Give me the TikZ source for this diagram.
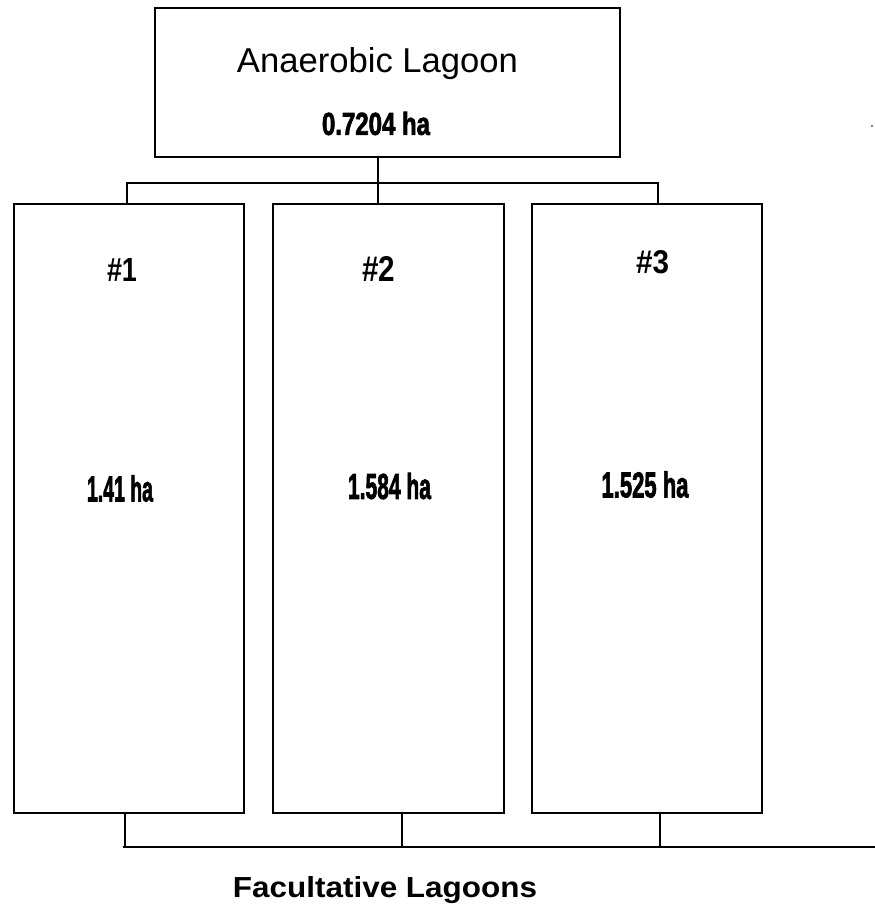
\documentclass[tikz,border=0pt]{standalone}
\usepackage{fontspec}
\setmainfont{Liberation Sans}
\newfontfamily\heavyfont[FakeBold=2.5]{Liberation Sans Bold}
\usepackage{graphicx}
\begin{document}
\begin{tikzpicture}[x=1pt,y=-1pt,
  lagoon/.style={draw=black, line width=1.6pt, rectangle, inner sep=0pt, outer sep=0pt},
  conn/.style={draw=black, line width=1.6pt},
  lbl/.style={inner sep=0pt, outer sep=0pt}]
\useasboundingbox (0,0) rectangle (875,905);
% boxes
\node[lagoon, minimum width=465pt, minimum height=149pt] (top) at (387.5,82.5) {};
\node[lagoon, minimum width=230pt, minimum height=609pt] (l1) at (129,508.5) {};
\node[lagoon, minimum width=231pt, minimum height=609pt] (l2) at (388.5,508.5) {};
\node[lagoon, minimum width=230pt, minimum height=609pt] (l3) at (647,508.5) {};
% texts
\node[lbl, anchor=base] (tA) at (377.5,72) {\resizebox{281pt}{25pt}{Anaerobic Lagoon}};
\node[lbl] (tA2) at (376,123.5) {\resizebox{108pt}{23pt}{\heavyfont 0.7204 ha}};
\node[lbl] (n1) at (122,269.5) {\resizebox{30pt}{23pt}{\bfseries \#1}};
\node[lbl] (n2) at (378.5,269) {\resizebox{33pt}{25pt}{\bfseries \#2}};
\node[lbl] (n3) at (652.5,262) {\resizebox{33pt}{23pt}{\bfseries \#3}};
\node[lbl] (a1) at (120,488.5) {\resizebox{66pt}{26pt}{\heavyfont 1.41 ha}};
\node[lbl] (a2) at (389.5,486) {\resizebox{83pt}{26pt}{\heavyfont 1.584 ha}};
\node[lbl] (a3) at (645,484.5) {\resizebox{87pt}{26pt}{\heavyfont 1.525 ha}};
\node[lbl, anchor=base] (fac) at (385,897) {\resizebox{304pt}{21pt}{\bfseries Facultative Lagoons}};
% top connectors
\coordinate (jm) at (378,183);
\coordinate (jl) at (127,183);
\coordinate (jr) at (658,183);
\draw[conn] (top.south -| jm) -- (l2.north -| jm);
\draw[conn] (l1.north -| jl) -- (jl) -- (jr) -- (l3.north -| jr);
% bottom connectors
\coordinate (b1) at (125,847);
\coordinate (b2) at (402,847);
\coordinate (b3) at (660,847);
\coordinate (bs) at (123,847);
\coordinate (be) at (875,847);
\draw[conn] (l1.south -| b1) -- (b1);
\draw[conn] (l2.south -| b2) -- (b2);
\draw[conn] (l3.south -| b3) -- (b3);
\draw[conn] (bs) -- (be);
% speck
\fill[gray] (871,125) rectangle (873,127);
\end{tikzpicture}
\end{document}
